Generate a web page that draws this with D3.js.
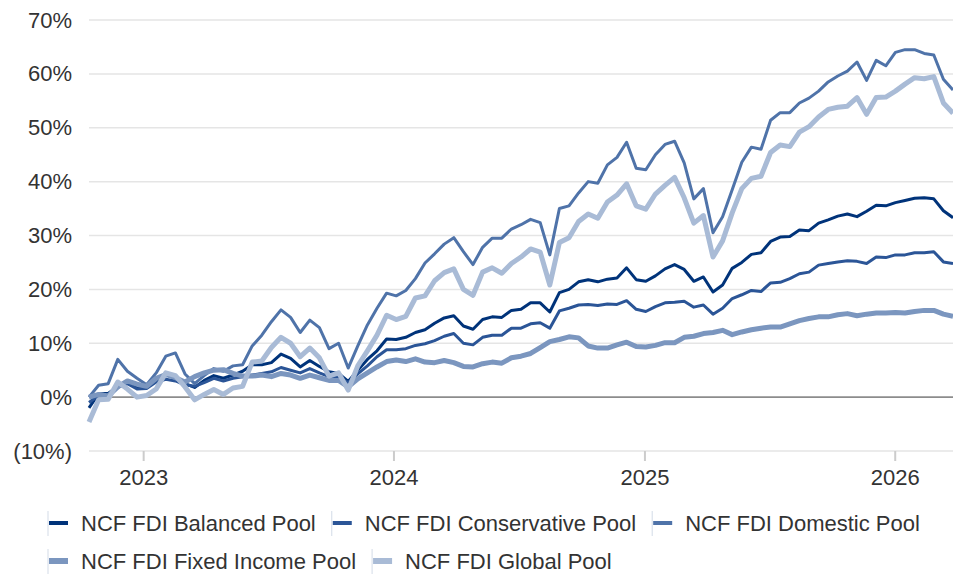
<!DOCTYPE html>
<html><head><meta charset="utf-8">
<script src="https://cdn.jsdelivr.net/npm/d3@7"></script>
<style>
body{margin:0;background:#fff}
svg{display:block}
text{font-family:"Liberation Sans",Arial,sans-serif}
</style>
</head><body>
<svg id="c" width="953" height="574"></svg>
<script>
// ---- data (cumulative return, %) ----
const dates = [
"2022-10-14","2022-10-28","2022-11-11","2022-11-25","2022-12-09","2022-12-23",
"2023-01-06","2023-01-20","2023-02-03","2023-02-17","2023-03-03","2023-03-17","2023-03-31","2023-04-14","2023-04-28","2023-05-12","2023-05-26","2023-06-09","2023-06-23","2023-07-07","2023-07-21","2023-08-04","2023-08-18","2023-09-01","2023-09-15","2023-09-29","2023-10-13","2023-10-27","2023-11-10","2023-11-24","2023-12-08","2023-12-22",
"2024-01-05","2024-01-19","2024-02-02","2024-02-16","2024-03-01","2024-03-15","2024-03-29","2024-04-12","2024-04-26","2024-05-10","2024-05-24","2024-06-07","2024-06-21","2024-07-05","2024-07-19","2024-08-02","2024-08-16","2024-08-30","2024-09-13","2024-09-27","2024-10-11","2024-10-25","2024-11-08","2024-11-22","2024-12-06","2024-12-20",
"2025-01-03","2025-01-17","2025-01-31","2025-02-14","2025-02-28","2025-03-14","2025-03-28","2025-04-11","2025-04-25","2025-05-09","2025-05-23","2025-06-06","2025-06-20","2025-07-04","2025-07-18","2025-08-01","2025-08-15","2025-08-29","2025-09-12","2025-09-26","2025-10-10","2025-10-24","2025-11-07","2025-11-21","2025-12-05","2025-12-19",
"2026-01-02","2026-01-16","2026-01-30","2026-02-13","2026-02-27","2026-03-13","2026-03-27"];

const seriesNames = ["NCF FDI Balanced Pool","NCF FDI Conservative Pool","NCF FDI Domestic Pool","NCF FDI Fixed Income Pool","NCF FDI Global Pool"];

const balanced = [-2,0.6,0.7,2,2.9,1.7,1.8,3.2,4.2,3.5,2.5,1.8,3.1,4,3.5,4.1,4.8,6,6,6.4,8,7.2,5.6,6.8,5.7,4.7,4.4,2.9,5,7,8.6,10.8,
10.7,11.1,12,12.5,13.7,14.7,15.1,13.2,12.6,14.4,14.9,14.8,16.1,16.3,17.5,17.5,15.8,19.4,20,21.4,21.8,21.4,21.9,22.1,24,21.8,
21.5,22.5,23.8,24.6,23.7,21.5,22.3,19.5,20.8,23.9,25,26.5,26.8,28.9,29.7,29.8,31,30.9,32.3,32.9,33.6,34,33.5,34.5,35.6,35.5,
36.1,36.5,36.9,37,36.8,34.6,33.3];

const conservative = [-1,0.3,0.4,1.8,2.5,1.5,1.6,2.8,3.3,3,2.3,2,2.7,3.5,3,3.5,3.8,4.1,4.4,4.7,5.5,5,4.5,5.3,4.5,3.8,3.7,2.7,4.3,5.8,7.5,8.8,
8.8,9,9.6,9.9,10.5,11.3,11.8,10,9.7,11.1,11.5,11.5,12.8,12.8,13.6,13.8,12.8,16,16.5,17.1,17.2,17,17.3,17.2,17.9,16.3,
15.9,16.8,17.5,17.6,17.8,16.7,17.1,15.4,16.5,18.3,19,19.8,19.6,21.2,21.3,22,22.9,23.2,24.5,24.8,25.1,25.3,25.2,24.8,26,25.9,
26.4,26.4,26.8,26.8,27,25.1,24.8];

const domestic = [0,2.2,2.5,7,4.8,3.5,2.3,4.5,7.6,8.2,4.3,2.5,4,5.3,4.8,5.8,6,9.5,11.5,14,16.2,14.8,12,14.3,12.9,9,10,5.4,9.5,13.4,16.5,19.3,
18.8,19.8,22,24.9,26.6,28.4,29.6,27,24.6,27.8,29.5,29.5,31.2,32,33,32.4,26.4,35,35.5,37.9,40,39.7,43.1,44.5,47.3,42.5,
42.2,45,46.9,47.5,43.5,36.8,38.7,30.5,33.5,38.5,43.6,46.4,46,51.4,52.8,52.8,54.6,55.5,56.8,58.5,59.6,60.5,62.2,58.8,62.5,61.5,
64,64.5,64.5,63.8,63.5,59,57];

const fixedIncome = [0,0.5,0.2,1.9,3,2.4,2,3.5,4.2,3.6,2.8,3.8,4.5,5,5.1,4.4,3.9,3.9,4.1,3.8,4.4,4.1,3.5,4.1,3.6,3.1,3.1,1.9,3.4,4.5,5.6,6.6,
6.9,6.6,7.1,6.5,6.4,6.8,6.4,5.7,5.6,6.2,6.5,6.3,7.3,7.6,8.1,9.2,10.3,10.7,11.2,11,9.5,9.1,9.1,9.7,10.2,9.4,
9.3,9.6,10.1,10.1,11.1,11.3,11.8,12,12.4,11.6,12.1,12.5,12.8,13,13,13.6,14.2,14.6,14.9,14.9,15.3,15.5,15.1,15.4,15.6,15.6,
15.7,15.6,15.9,16.1,16.1,15.4,15];

const global = [-4.6,-0.5,-0.4,2.8,1.5,0,0.3,1.5,4.5,4,1.9,-0.5,0.5,1.4,0.5,1.7,2,6.5,6.7,9.2,11.1,10,7.5,9.1,7.3,3.9,4.5,1.3,5.8,8.6,11.5,15.2,
14.4,15,18.4,18.8,21.6,23.1,23.8,20,18.9,23.2,24,23,24.8,26,27.5,26.9,20.8,28.7,29.6,32.6,34,33.2,36.2,37.5,39.6,35.5,
34.9,37.7,39.3,40.8,37,32.3,33.7,26,29,34.2,38.7,40.6,41,45.4,46.8,46.5,49.2,50.2,52,53.4,53.8,54,55.6,52.5,55.6,55.7,
56.8,58.1,59.3,59.1,59.5,54.6,52.7];

const yTicks = [-10,0,10,20,30,40,50,60,70];
const yTickLabels = ["(10%)","0%","10%","20%","30%","40%","50%","60%","70%"];
const xTickLabels = ["2023","2024","2025","2026"];

// ---- styles ----
const colors = ["#00337a","#2b5597","#4f73a9","#7b96bf","#a9bbd6"];
const widths = [3,3,3,5,5];

const parse = d3.timeParse("%Y-%m-%d");
const dts = dates.map(parse);
const seriesValues = [balanced, conservative, domestic, fixedIncome, global];

const svg = d3.select("#c");
const x = d3.scaleTime().domain([dts[0], dts[dts.length-1]]).range([89, 953]);
const y = d3.scaleLinear().domain([-10, 70]).range([451, 20]);

// gridlines
svg.append("g").selectAll("line").data(yTicks.filter(d => d !== 0)).join("line")
  .attr("x1", 89).attr("x2", 953)
  .attr("y1", d => y(d)).attr("y2", d => y(d))
  .attr("stroke", "#e5e5e5").attr("stroke-width", 1.5);

// x axis
const xAxis = svg.append("g").attr("transform", `translate(0,${y(-10)})`)
  .call(d3.axisBottom(x).tickValues(xTickLabels.map(s => parse(s + "-01-01")))
    .tickFormat((d, i) => xTickLabels[i]).tickSize(10).tickPadding(8));
xAxis.select(".domain").remove();
xAxis.selectAll(".tick line").attr("stroke", "#cccccc").attr("stroke-width", 2);
xAxis.selectAll(".tick text").attr("fill", "#333").style("font-size", "22px")
  .style("font-family", '"Liberation Sans",Arial,sans-serif');

// y axis labels
const yAxis = svg.append("g").attr("transform", "translate(89,0)")
  .call(d3.axisLeft(y).tickValues(yTicks).tickFormat((d, i) => yTickLabels[i]).tickSize(0).tickPadding(17));
yAxis.select(".domain").remove();
yAxis.selectAll(".tick text").attr("fill", "#333").style("font-size", "22px")
  .style("font-family", '"Liberation Sans",Arial,sans-serif');

// zero line
svg.append("line").attr("x1", 89).attr("x2", 953).attr("y1", y(0)).attr("y2", y(0))
  .attr("stroke", "#8c8c8c").attr("stroke-width", 1.6);

// lines
const line = d3.line().x((d, i) => x(dts[i])).y(d => y(d));
svg.append("g").selectAll("path").data(seriesValues).join("path")
  .attr("d", d => line(d))
  .attr("fill", "none")
  .attr("stroke", (d, i) => colors[i])
  .attr("stroke-width", (d, i) => widths[i])
  .attr("stroke-linejoin", "round").attr("stroke-linecap", "butt");

// legend
const leg = svg.append("g");
let lx = 48, ly = 523;
seriesNames.forEach((name, i) => {
  const g = leg.append("g");
  const t = g.append("text").attr("x", 33).attr("y", 0).attr("dy", "0.35em")
    .attr("fill", "#333").style("font-size", "22px").text(name);
  const w = 33 + t.node().getComputedTextLength() + 16;
  if (lx + w > 953 && lx > 48) { lx = 48; ly += 38; }
  g.attr("transform", `translate(${lx},${ly})`);
  g.insert("line", "text").attr("x1", 0).attr("x2", 0).attr("y1", -12).attr("y2", 13)
    .attr("stroke", "#d3dbe7").attr("stroke-width", 1);
  g.insert("rect", "text").attr("x", 1).attr("width", 19)
    .attr("y", -(widths[i] + 1) / 2).attr("height", widths[i] + 1)
    .attr("fill", colors[i]);
  lx += w;
});
</script>
</body></html>
